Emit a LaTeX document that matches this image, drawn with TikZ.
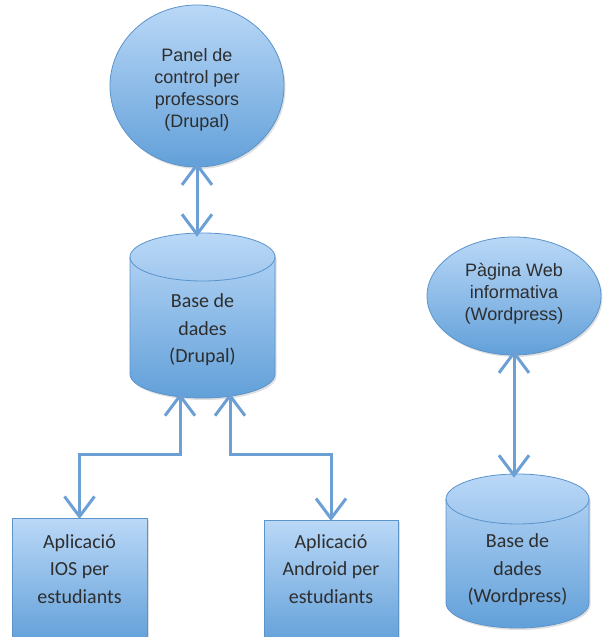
\documentclass[tikz,border=0pt]{standalone}
\usepackage{fontspec}
\setmainfont{Liberation Sans}
\newfontfamily\calfont{Carlito}
\usetikzlibrary{arrows.meta,shapes.geometric,shadows}
\definecolor{filltop}{HTML}{BAD8F7}
\definecolor{fillbot}{HTML}{62A0D9}
\definecolor{edgec}{HTML}{5B93CB}
\definecolor{arrowc}{HTML}{6C9FD4}
\definecolor{txtc}{HTML}{2E2E2E}
\begin{document}
\begin{tikzpicture}[x=1pt,y=1pt,
  bluefill/.style={top color=filltop, bottom color=fillbot, draw=edgec, line width=0.8pt,
    drop shadow={opacity=0.25, shadow xshift=1.5pt, shadow yshift=-2pt}},
  oval/.style={ellipse, bluefill, inner sep=0pt},
  boxshape/.style={rectangle, bluefill, inner sep=0pt, anchor=north},
  ovaltext/.style={font=\fontsize{18}{22}\selectfont, text=txtc, align=center, inner sep=0pt},
  caltext/.style={font=\calfont\fontsize{20}{27.5}\selectfont, text=txtc, align=center, inner sep=0pt},
  anchorbox/.style={rectangle, inner sep=0pt},
  link/.style={draw=arrowc, line width=3pt,
    {Straight Barb[length=20pt,width=30pt]}-{Straight Barb[length=20pt,width=30pt]}}
]
\useasboundingbox (0,0) rectangle (604,637);

% Top oval: Panel de control
\node[oval, minimum width=174pt, minimum height=162pt] (circ1) at (197,551) {};
\node[ovaltext] (circ1t) at (197,547) {Panel de\\control per\\professors\\(Drupal)};

% Oval: Pagina Web
\node[oval, minimum width=174pt, minimum height=118pt] (circ2) at (514,341) {};
\node[ovaltext] (circ2t) at (514,343) {Pàgina Web\\informativa\\(Wordpress)};

% Cylinder 1
\node[anchorbox, minimum width=145pt, minimum height=165pt] (cyl1) at (202.5,321.5) {};
\path[bluefill] (130,380) -- (130,263) arc[start angle=180, end angle=360, x radius=72.5, y radius=24]
  -- (275,380) arc[start angle=0, end angle=180, x radius=72.5, y radius=24] -- cycle;
\draw[edgec, line width=0.8pt] (130,380) arc[start angle=180, end angle=360, x radius=72.5, y radius=24];
\node[caltext] (cyl1t) at (202.5,307) {Base de\\dades\\(Drupal)};

% Cylinder 2
\node[anchorbox, minimum width=143pt, minimum height=154pt] (cyl2) at (517.5,86) {};
\path[bluefill] (446,138) -- (446,34) arc[start angle=180, end angle=360, x radius=71.5, y radius=25]
  -- (589,138) arc[start angle=0, end angle=180, x radius=71.5, y radius=25] -- cycle;
\draw[edgec, line width=0.8pt] (446,138) arc[start angle=180, end angle=360, x radius=71.5, y radius=25];
\node[caltext] (cyl2t) at (517.5,67) {Base de\\dades\\(Wordpress)};

% Boxes
\node[boxshape, minimum width=135pt, minimum height=124pt] (box1) at (79.5,119) {};
\node[caltext] (box1t) at (79.5,68) {Aplicació\\IOS per\\estudiants};
\node[boxshape, minimum width=134pt, minimum height=124pt] (box2) at (331,117) {};
\node[caltext] (box2t) at (331,68) {Aplicació\\Android per\\estudiants};

% Connectors
\coordinate (j1) at (79.5,182);
\coordinate (j2) at (331,182);
\draw[link] ([yshift=5pt]circ1.south) -- ([yshift=-4pt]circ1.south |- cyl1.north);
\draw[link] ([xshift=-22.5pt,yshift=5pt]cyl1.south) |- (j1) -- ([yshift=-1pt]box1.north);
\draw[link] ([xshift=27.5pt,yshift=5pt]cyl1.south) |- (j2) -- ([yshift=-1pt]box2.north);
\draw[link] ([yshift=5pt]circ2.south) -- ([yshift=-4pt]circ2.south |- cyl2.north);
\end{tikzpicture}
\end{document}
